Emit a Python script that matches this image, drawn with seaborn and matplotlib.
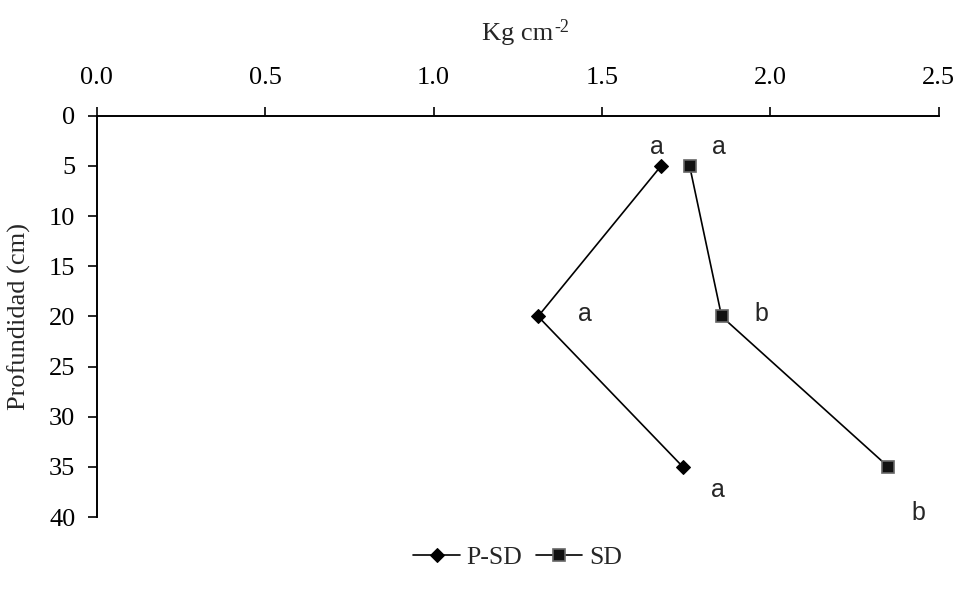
import matplotlib
matplotlib.use("Agg")
import matplotlib.pyplot as plt
import seaborn as sns
import pandas as pd

profundidad = [5, 20, 35]
psd_vals = [1.675, 1.31, 1.74]
sd_vals = [1.76, 1.855, 2.35]

# letras de significancia: (texto, x, y)
letras_txt = ["a", "a", "a", "b", "a", "b"]
letras_x = [1.663, 1.847, 1.449, 1.974, 1.844, 2.44]
letras_y = [3.1, 3.1, 19.8, 19.8, 37.3, 39.6]

df = pd.DataFrame({
    "prof": profundidad * 2,
    "val": psd_vals + sd_vals,
    "serie": ["P-SD"] * 3 + ["SD"] * 3,
})

sns.set_style("white")
plt.rcParams["font.family"] = ["Liberation Serif", "DejaVu Serif"]

fig = plt.figure(figsize=(9.59, 5.94), dpi=100)
ax = fig.add_axes([0.101, 0.1296, 0.878, 0.6754])

sns.lineplot(data=df, x="val", y="prof", hue="serie", style="serie",
             markers={"P-SD": "D", "SD": "s"}, dashes=False,
             palette={"P-SD": "black", "SD": "black"},
             sort=False, estimator=None, linewidth=1.2, ax=ax,
             markeredgecolor="black")
for line in ax.lines:
    if line.get_marker() == "s":
        line.set_markerfacecolor("#111111")
        line.set_markeredgecolor("#666666")
        line.set_markeredgewidth(1.2)
        line.set_markersize(9)
    elif line.get_marker() == "D":
        line.set_markersize(7)

for t, x, y in zip(letras_txt, letras_x, letras_y):
    ax.text(x, y, t, ha="center", va="center", fontsize=18,
            family=["Liberation Sans", "DejaVu Sans"])

ax.set_xlim(0, 2.5)
ax.set_ylim(40, 0)
ax.set_xticks([0, 0.5, 1.0, 1.5, 2.0, 2.5])
ax.set_xticklabels(["0.0", "0.5", "1.0", "1.5", "2.0", "2.5"])
ax.set_yticks(range(0, 45, 5))
ax.xaxis.tick_top()
ax.xaxis.set_label_position("top")
xl = ax.set_xlabel("Kg cm", fontsize=19, labelpad=19)
ax.annotate("-2", xy=(1.0, 1.0), xycoords=xl, xytext=(0.5, 3),
            textcoords="offset points", fontsize=13, ha="left", va="top")
ax.set_ylabel("Profundidad (cm)", fontsize=19, labelpad=13)
ax.tick_params(axis="x", direction="out", length=6.5, width=1.2, labelsize=19,
               top=True, bottom=False, pad=13, colors="black")
ax.tick_params(axis="y", direction="out", length=6.5, width=1.2, labelsize=19,
               left=True, pad=9, colors="black")
for s in ["right", "bottom"]:
    ax.spines[s].set_visible(False)
for s in ["top", "left"]:
    ax.spines[s].set_color("black")
    ax.spines[s].set_linewidth(1.4)

handles, labels = ax.get_legend_handles_labels()
ax.legend(handles, labels, loc="center", bbox_to_anchor=(0.5, -0.1),
          ncol=2, frameon=False, fontsize=18.5, handlelength=1.8,
          handletextpad=0.27, columnspacing=0.54)

fig.savefig("out.png", dpi=100)
